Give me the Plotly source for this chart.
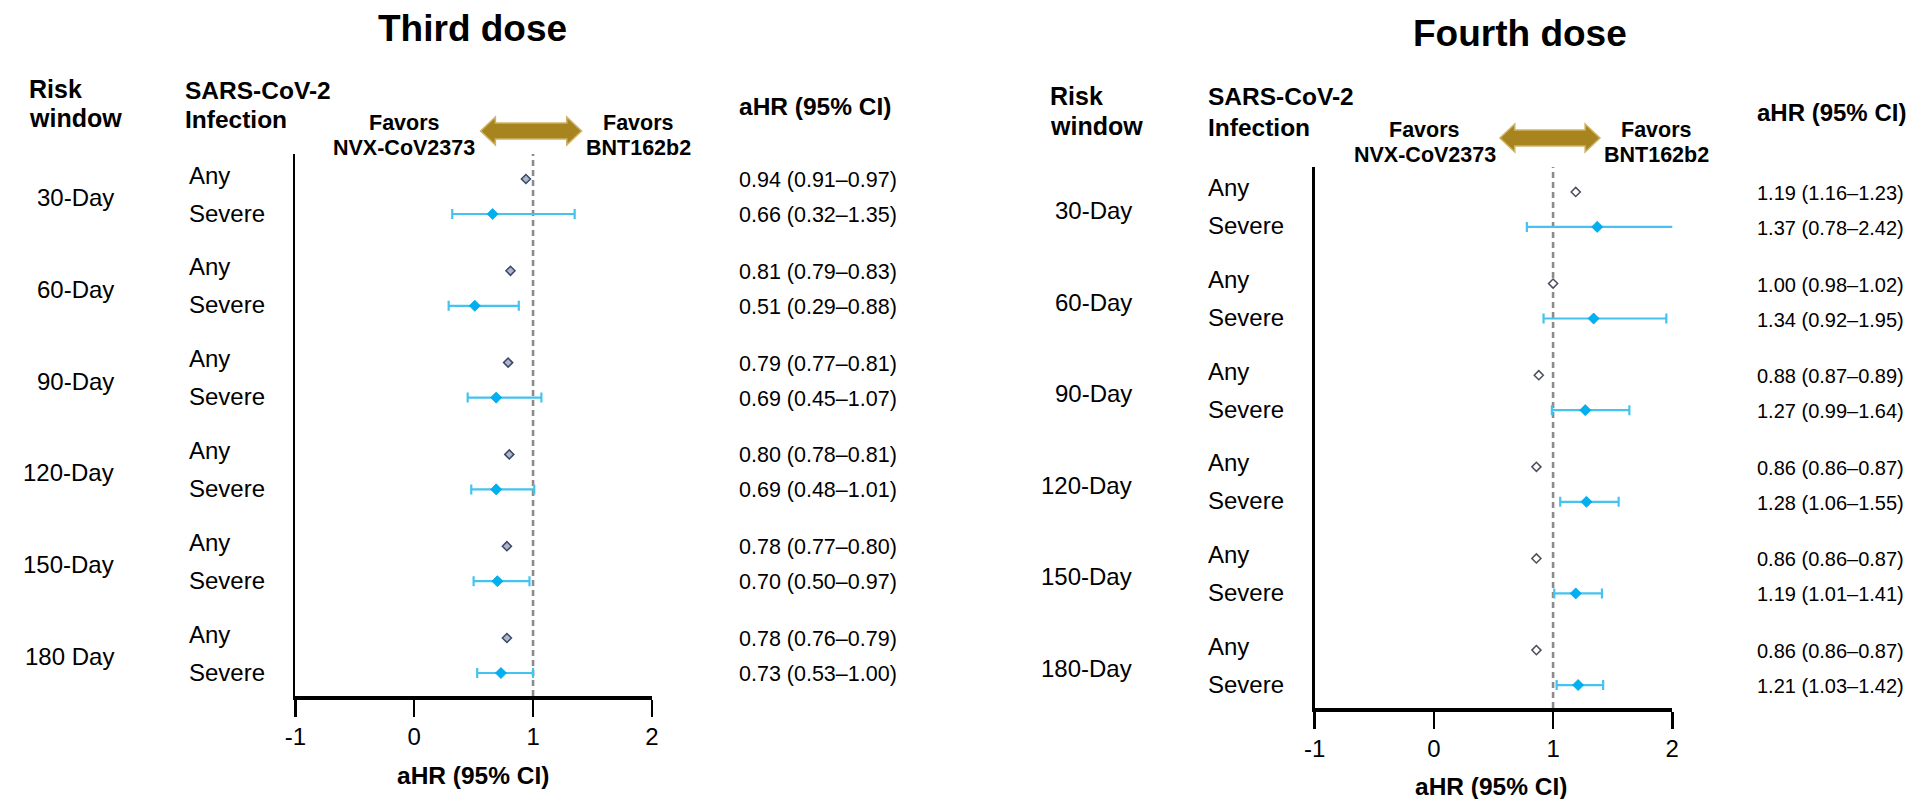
import plotly.graph_objects as go

W, H = 1921, 799

# ---------------- data ----------------
windows_third = ["30-Day", "60-Day", "90-Day", "120-Day", "150-Day", "180 Day"]
windows_fourth = ["30-Day", "60-Day", "90-Day", "120-Day", "150-Day", "180-Day"]
infection_types = ["Any", "Severe"]

third_any_hr = [0.94, 0.81, 0.79, 0.80, 0.78, 0.78]
third_any_lo = [0.91, 0.79, 0.77, 0.78, 0.77, 0.76]
third_any_hi = [0.97, 0.83, 0.81, 0.81, 0.80, 0.79]
third_sev_hr = [0.66, 0.51, 0.69, 0.69, 0.70, 0.73]
third_sev_lo = [0.32, 0.29, 0.45, 0.48, 0.50, 0.53]
third_sev_hi = [1.35, 0.88, 1.07, 1.01, 0.97, 1.00]

fourth_any_hr = [1.19, 1.00, 0.88, 0.86, 0.86, 0.86]
fourth_any_lo = [1.16, 0.98, 0.87, 0.86, 0.86, 0.86]
fourth_any_hi = [1.23, 1.02, 0.89, 0.87, 0.87, 0.87]
fourth_sev_hr = [1.37, 1.34, 1.27, 1.28, 1.19, 1.21]
fourth_sev_lo = [0.78, 0.92, 0.99, 1.06, 1.01, 1.03]
fourth_sev_hi = [2.42, 1.95, 1.64, 1.55, 1.41, 1.42]

x_ticks = [-1, 0, 1, 2]
reference_hr = 1

# ---------------- layout helpers ----------------
FONT = "Liberation Sans, Arial, sans-serif"
FIRST_ROW, GROUP_STEP, SUB_STEP, Y_SPAN = 25, 91.8, 35, 542


def px(x):
    return x / W


def py(y):
    return 1 - y / H


def row_y(g, s):
    return FIRST_ROW + g * GROUP_STEP + s * SUB_STEP


panels = [
    dict(title="Third dose", windows=windows_third,
         any=(third_any_hr, third_any_lo, third_any_hi),
         sev=(third_sev_hr, third_sev_lo, third_sev_hi),
         xa="x", ya="y", left=287, right=647, top=154, bottom=696,
         title_xy=(466, 28), risk_xy=(17, 89), sars_xy=(175, 90), line_gap=29,
         fav_l=(397, 123), fav_r=(633, 123), fav_gap=25, arrow=(474, 576, 131),
         hdr_xy=(734, 106), hdr_size=24.5, grp_x=105, rowlab_x=179, val_x=734,
         val_size=21.5, axt_xy=(466, 775), any_fill="#AEB6C8", any_line="#3A476A"),
    dict(title="Fourth dose", windows=windows_fourth,
         any=(fourth_any_hr, fourth_any_lo, fourth_any_hi),
         sev=(fourth_sev_hr, fourth_sev_lo, fourth_sev_hi),
         xa="x2", ya="y2", left=1316, right=1677, top=167, bottom=708,
         title_xy=(1523, 33), risk_xy=(1048, 96), sars_xy=(1207, 97), line_gap=30,
         fav_l=(1427, 130), fav_r=(1661, 130), fav_gap=25, arrow=(1503, 1604, 138),
         hdr_xy=(1762, 112), hdr_size=24, grp_x=1133, rowlab_x=1207, val_x=1762,
         val_size=20, axt_xy=(1494, 786), any_fill="#FFFFFF", any_line="#4A4F5C"),
]

fig = go.Figure()
annotations = []
shapes = []


def ann(text, x, y, size, bold=False, xanchor="left"):
    annotations.append(dict(
        text=f"<b>{text}</b>" if bold else text,
        x=px(x), y=py(y), xref="paper", yref="paper",
        xanchor=xanchor, yanchor="middle", showarrow=False, borderpad=0,
        font=dict(family=FONT, size=size, color="#000000")))


for p in panels:
    n = len(p["windows"])
    a_hr, a_lo, a_hi = p["any"]
    s_hr, s_lo, s_hi = p["sev"]
    y_any = [row_y(g, 0) for g in range(n)]
    y_sev = [row_y(g, 1) for g in range(n)]

    fig.add_trace(go.Scatter(
        x=s_hr, y=y_sev, mode="markers", xaxis=p["xa"], yaxis=p["ya"],
        marker=dict(symbol="diamond", size=8.5, color="#00B0F0",
                    line=dict(width=0.8, color="#00A6E6")),
        error_x=dict(type="data", symmetric=False,
                     array=[h - m for h, m in zip(s_hi, s_hr)],
                     arrayminus=[m - l for m, l in zip(s_hr, s_lo)],
                     color="#45C2F0", thickness=2.2, width=5),
        showlegend=False, hoverinfo="skip"))
    fig.add_trace(go.Scatter(
        x=a_hr, y=y_any, mode="markers", xaxis=p["xa"], yaxis=p["ya"],
        marker=dict(symbol="diamond", size=7, color=p["any_fill"],
                    line=dict(width=1.5, color=p["any_line"])),
        error_x=dict(type="data", symmetric=False,
                     array=[h - m for h, m in zip(a_hi, a_hr)],
                     arrayminus=[m - l for m, l in zip(a_hr, a_lo)],
                     color=p["any_line"], thickness=1.2, width=0),
        showlegend=False, hoverinfo="skip"))

    # reference line at HR = 1
    shapes.append(dict(type="line", xref=p["xa"], yref=p["ya"] + " domain",
                       x0=reference_hr, x1=reference_hr, y0=0, y1=1,
                       line=dict(color="#8C8C8C", width=2.6, dash="6px,4px"),
                       layer="below"))

    # double-headed arrow
    x0, x1, yc = p["arrow"]
    hl, hh, hs = 15, 14, 8
    pts = [(x0, yc), (x0 + hl, yc - hh), (x0 + hl, yc - hs), (x1 - hl, yc - hs),
           (x1 - hl, yc - hh), (x1, yc), (x1 - hl, yc + hh), (x1 - hl, yc + hs),
           (x0 + hl, yc + hs), (x0 + hl, yc + hh)]
    path = "M " + " L ".join(f"{px(a):.5f},{py(b):.5f}" for a, b in pts) + " Z"
    shapes.append(dict(type="path", xref="paper", yref="paper", path=path,
                       fillcolor="#A8841F", line=dict(color="#CDB468", width=1.5)))

    # titles & headers
    ann(p["title"], p["title_xy"][0], p["title_xy"][1], 37, bold=True, xanchor="center")
    rx, ry = p["risk_xy"]
    ann("Risk", rx, ry, 25, bold=True)
    ann("window", rx, ry + p["line_gap"], 25, bold=True)
    sx, sy = p["sars_xy"]
    ann("SARS-CoV-2", sx, sy, 24.5, bold=True)
    ann("Infection", sx, sy + p["line_gap"], 24.5, bold=True)
    fx, fy = p["fav_l"]
    ann("Favors", fx, fy, 21.5, bold=True, xanchor="center")
    ann("NVX-CoV2373", fx, fy + p["fav_gap"], 21.5, bold=True, xanchor="center")
    fx, fy = p["fav_r"]
    ann("Favors", fx, fy, 21.5, bold=True, xanchor="center")
    ann("BNT162b2", fx, fy + p["fav_gap"], 21.5, bold=True, xanchor="center")
    ann("aHR (95% CI)", p["hdr_xy"][0], p["hdr_xy"][1], p["hdr_size"], bold=True)
    ann("aHR (95% CI)", p["axt_xy"][0], p["axt_xy"][1], 24.5, bold=True, xanchor="center")

    # row-aligned labels (positioned on the panel's y axis)
    for g in range(n):
        annotations.append(dict(
            text=p["windows"][g], x=px(p["grp_x"]), y=(y_any[g] + y_sev[g]) / 2 + 1,
            xref="paper", yref=p["ya"], xanchor="right", yanchor="middle",
            showarrow=False, borderpad=0, font=dict(family=FONT, size=24, color="#000")))
        for s, (yy, hr, lo, hi) in enumerate([(y_any[g], a_hr[g], a_lo[g], a_hi[g]),
                                               (y_sev[g], s_hr[g], s_lo[g], s_hi[g])]):
            annotations.append(dict(
                text=infection_types[s], x=px(p["rowlab_x"]), y=yy - (4 if s == 0 else 1),
                xref="paper", yref=p["ya"], xanchor="left", yanchor="middle",
                showarrow=False, borderpad=0, font=dict(family=FONT, size=24, color="#000")))
            annotations.append(dict(
                text=f"{hr:.2f} ({lo:.2f}\u2013{hi:.2f})", x=px(p["val_x"]), y=yy + 1,
                xref="paper", yref=p["ya"], xanchor="left", yanchor="middle",
                showarrow=False, borderpad=0,
                font=dict(family=FONT, size=p["val_size"], color="#000")))

axis_common_x = dict(range=[-1, 2], tickvals=x_ticks, ticktext=[str(t) for t in x_ticks],
                     showline=True, linecolor="#000", linewidth=3.5, ticks="outside",
                     ticklen=17, tickwidth=2.5, tickcolor="#000", showgrid=False,
                     zeroline=False, fixedrange=True,
                     tickfont=dict(family=FONT, size=24, color="#000"))
axis_common_y = dict(range=[Y_SPAN, 0], showline=True, linecolor="#000", linewidth=2.5,
                     showticklabels=False, ticks="", showgrid=False, zeroline=False,
                     fixedrange=True)

p0, p1 = panels
fig.update_layout(
    width=W, height=H, margin=dict(l=0, r=0, t=0, b=0),
    paper_bgcolor="#FFFFFF", plot_bgcolor="#FFFFFF", showlegend=False,
    xaxis=dict(domain=[px(p0["left"]), px(p0["right"])], anchor="y", **axis_common_x),
    yaxis=dict(domain=[py(p0["bottom"]), py(p0["top"])], anchor="x", **axis_common_y),
    xaxis2=dict(domain=[px(p1["left"]), px(p1["right"])], anchor="y2", **axis_common_x),
    yaxis2=dict(domain=[py(p1["bottom"]), py(p1["top"])], anchor="x2", **axis_common_y),
    annotations=annotations, shapes=shapes,
)

fig.write_html(
    "out.html",
    config={"displayModeBar": False, "staticPlot": True},
    post_script="document.body.style.margin='0px';document.body.style.overflow='hidden';",
)
